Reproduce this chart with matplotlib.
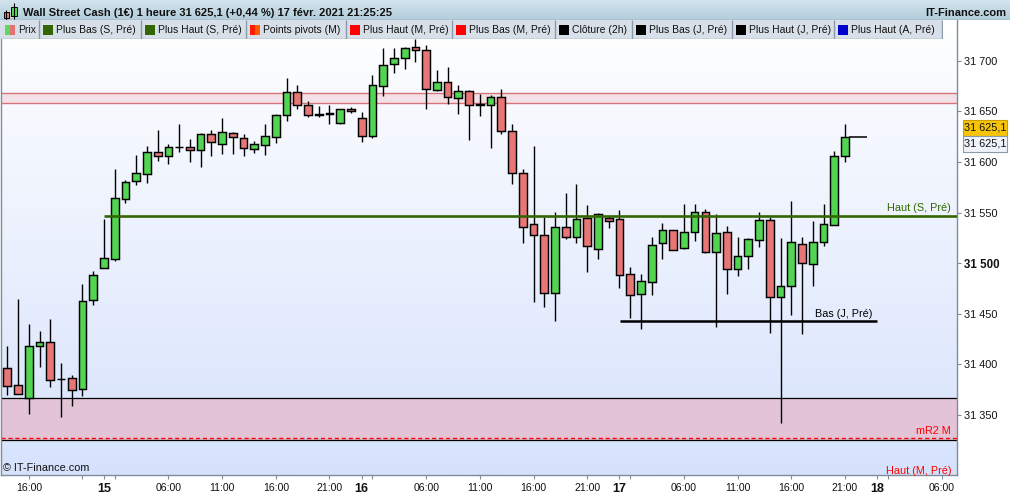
import numpy as np
import matplotlib
matplotlib.use("Agg")
import matplotlib.pyplot as plt
from matplotlib.patches import Rectangle
from matplotlib.colors import LinearSegmentedColormap
import matplotlib.transforms as mtransforms

plt.rcParams['font.family'] = ['Liberation Sans', 'DejaVu Sans']

# ---------------- data (hourly candles) ----------------
opens = [31396.3, 31379.5, 31366.6, 31418.0, 31422.0, 31385.7, 31386.4, 31375.5, 31463.4, 31494.9,
         31504.5, 31563.8, 31581.0, 31588.5, 31609.7, 31605.7, 31614.6, 31614.6, 31612.2, 31627.5,
         31618.2, 31628.4, 31623.5, 31612.6, 31616.6, 31624.5, 31646.2, 31668.9, 31656.1, 31647.3,
         31648.7, 31638.9, 31652.2, 31643.3, 31625.5, 31674.9, 31696.6, 31702.5, 31713.4, 31710.4,
         31670.9, 31678.8, 31663.0, 31669.9, 31657.2, 31656.1, 31664.0, 31630.4, 31588.9, 31538.5,
         31527.7, 31470.4, 31535.6, 31525.7, 31544.5, 31513.8, 31544.5, 31543.5, 31489.1, 31469.4,
         31481.2, 31519.8, 31532.6, 31514.8, 31530.6, 31550.4, 31510.9, 31530.6, 31494.1, 31506.9,
         31522.7, 31542.5, 31466.4, 31477.3, 31518.8, 31499.0, 31520.7, 31537.5, 31605.7]
highs = [31418.3, 31464.4, 31440.0, 31433.1, 31445.0, 31401.2, 31389.3, 31479.5, 31492.4, 31543.8,
         31593.2, 31582.3, 31607.0, 31615.9, 31631.7, 31617.9, 31637.6, 31622.8, 31628.4, 31631.7,
         31643.6, 31629.7, 31627.7, 31620.5, 31637.6, 31647.2, 31683.1, 31676.2, 31660.4, 31655.4,
         31656.4, 31652.2, 31654.1, 31649.2, 31686.0, 31712.4, 31712.4, 31714.0, 31721.3, 31715.7,
         31690.7, 31693.6, 31675.9, 31670.9, 31667.0, 31666.0, 31671.9, 31637.3, 31592.9, 31615.6,
         31546.0, 31550.4, 31569.2, 31578.1, 31557.3, 31549.4, 31546.4, 31552.4, 31496.0, 31489.1,
         31525.7, 31539.8, 31532.6, 31558.3, 31558.3, 31553.4, 31548.4, 31536.6, 31525.7, 31524.7,
         31550.4, 31545.4, 31524.7, 31561.3, 31525.7, 31541.5, 31558.3, 31610.7, 31637.3]
lows = [31369.9, 31370.6, 31351.1, 31397.8, 31378.1, 31348.4, 31359.3, 31369.2, 31459.1, 31494.9,
        31502.6, 31559.9, 31577.7, 31579.6, 31601.1, 31598.4, 31610.3, 31600.4, 31595.4, 31606.3,
        31608.3, 31608.3, 31606.3, 31609.3, 31607.3, 31619.2, 31640.3, 31652.7, 31644.8, 31644.8,
        31637.9, 31637.9, 31648.8, 31619.5, 31623.5, 31665.6, 31688.3, 31692.3, 31698.6, 31652.2,
        31669.9, 31657.1, 31647.2, 31621.5, 31645.2, 31613.6, 31627.5, 31578.1, 31519.8, 31462.1,
        31457.1, 31443.0, 31523.7, 31519.8, 31491.1, 31504.0, 31534.6, 31475.3, 31445.7, 31434.8,
        31468.4, 31504.0, 31512.8, 31513.8, 31521.7, 31509.9, 31436.8, 31469.4, 31487.2, 31494.1,
        31515.8, 31430.8, 31342.5, 31448.6, 31429.9, 31477.3, 31516.8, 31537.5, 31599.8]
closes = [31379.1, 31370.6, 31418.0, 31422.0, 31385.0, 31385.7, 31374.5, 31462.5, 31488.1, 31504.9,
          31564.2, 31580.0, 31588.9, 31609.7, 31605.7, 31614.6, 31614.6, 31611.6, 31627.5, 31619.5,
          31629.4, 31624.5, 31613.6, 31617.6, 31625.5, 31646.2, 31668.9, 31656.1, 31646.2, 31646.3,
          31647.7, 31652.2, 31650.2, 31625.5, 31675.9, 31695.6, 31702.5, 31712.4, 31710.4, 31671.9,
          31678.8, 31664.0, 31670.5, 31656.1, 31656.2, 31664.8, 31630.4, 31588.9, 31535.6, 31527.7,
          31470.4, 31535.6, 31525.7, 31543.5, 31516.8, 31548.4, 31541.5, 31488.1, 31468.4, 31482.2,
          31517.8, 31532.6, 31512.8, 31530.6, 31550.4, 31510.9, 31529.6, 31494.1, 31506.9, 31523.7,
          31542.5, 31466.4, 31477.3, 31520.7, 31500.0, 31520.7, 31538.5, 31605.7, 31625.1]

last_price = 31625.1

# levels
band_high = (31658.0, 31668.0)        # upper pink zone
band_low = (31325.4, 31366.6)         # lower pink zone
mr2_level = 31327.7                   # mR2 M pivot (dashed)
haut_s_pre = 31547.0                  # Haut (S, Pré)
bas_j_pre = 31443.3                   # Bas (J, Pré)

# axes ticks
ytick_vals = [31350, 31400, 31450, 31500, 31550, 31600, 31650, 31700]
ytick_labels = ['31 350', '31 400', '31 450', '31 500', '31 550', '31 600', '31 650', '31 700']
xtick_pos = [2, 7, 9, 10, 15, 20, 25, 30, 33, 34, 39, 44, 49, 54, 57, 58, 63, 68, 73, 78, 81, 82, 87]
xtick_labels = ['16:00', '', '15', '', '06:00', '11:00', '16:00', '21:00', '16', '', '06:00', '11:00',
                '16:00', '21:00', '17', '', '06:00', '11:00', '16:00', '21:00', '18', '', '06:00']
day_labels = ['15', '16', '17', '18']

legend_names = ['Prix', 'Plus Bas (S, Pré)', 'Plus Haut (S, Pré)', 'Points pivots (M)',
                'Plus Haut (M, Pré)', 'Plus Bas (M, Pré)', 'Clôture (2h)', 'Plus Bas (J, Pré)',
                'Plus Haut (J, Pré)', 'Plus Haut (A, Pré)']
legend_colors = [('#5ed85e', '#e47272'), ('#336600', '#336600'), ('#336600', '#336600'),
                 ('#ff1a00', '#ff5a00'), ('#ff0000', '#ff0000'), ('#ff0000', '#ff0000'),
                 ('#000000', '#000000'), ('#000000', '#000000'), ('#000000', '#000000'),
                 ('#0000cc', '#0000cc')]
legend_seps = [3, 39, 141, 246, 346, 452, 555, 632, 732, 834, 942]

title = 'Wall Street Cash (1€) 1 heure 31 625,1 (+0,44 %) 17 févr. 2021 21:25:25'

# ---------------- figure ----------------
W, H = 1010, 495
fig = plt.figure(figsize=(W / 100, H / 100), dpi=100, facecolor='white')


def fx(px):
    return px / W


def fy(py):
    return 1 - py / H


XMIN, XMAX = -0.587, 88.43
YMIN, YMAX = 31290.8, 31740.4

ax = fig.add_axes([fx(1), fy(475), (957 - 1) / W, (475 - 20) / H])
ax.set_xlim(XMIN, XMAX)
ax.set_ylim(YMIN, YMAX)

grad = np.linspace(1, 0, 256).reshape(-1, 1)
bg_cmap = LinearSegmentedColormap.from_list('bg', ['#d6e2fc', '#ffffff'])
ax.imshow(grad, extent=[XMIN, XMAX, YMIN, YMAX], aspect='auto', cmap=bg_cmap,
          vmin=0, vmax=1, zorder=0, origin='upper', interpolation='bilinear')

# zones
ax.axhspan(band_high[0], band_high[1], facecolor='#f4e0e7', lw=0, zorder=1)
ax.axhline(band_high[0], color='#d7757a', lw=1.0, zorder=1.5)
ax.axhline(band_high[1], color='#d7757a', lw=1.0, zorder=1.5)
ax.axhspan(band_low[0], band_low[1], facecolor='#e3c4d7', lw=0, zorder=1)
ax.axhline(band_low[0], color='black', lw=0.9, zorder=1.5)
ax.axhline(band_low[1], color='black', lw=0.9, zorder=1.5)
ax.axhline(mr2_level, color='#ff0000', lw=1.0, ls=(0, (3, 2)), zorder=1.6)

# candles
o = np.array(opens); h = np.array(highs); l = np.array(lows); c = np.array(closes)
x = np.arange(len(o))
up = c >= o
body_colors = np.where(up, '#52d652', '#e97676')
ax.vlines(x, l, h, color='black', lw=1.0, zorder=3)
ax.bar(x, np.abs(c - o), bottom=np.minimum(o, c), width=0.72, color=body_colors,
       edgecolor='black', linewidth=1.05, zorder=4)

# level lines
ax.hlines(haut_s_pre, 9.0, XMAX, color='#336600', lw=1.9, zorder=5)
ax.hlines(bas_j_pre, 57.05, 80.97, color='black', lw=1.8, zorder=5)
ax.hlines(last_price, 78.37, 80.05, color='black', lw=1.1, zorder=5)

tr = mtransforms.blended_transform_factory(ax.transAxes, ax.transData)
ax.text(0.9937, 31555.0, 'Haut (S, Pré)', color='#336600', ha='right', va='center',
        transform=tr, fontsize=7.8, zorder=6)
ax.text(0.9937, 31334.6, 'mR2 M', color='#ff0000', ha='right', va='center',
        transform=tr, fontsize=7.8, zorder=6)
ax.text(80.55, 31450.2, 'Bas (J, Pré)', color='black', ha='right', va='center',
        fontsize=7.8, zorder=6)

# axes styling
for s in ['left', 'right', 'bottom']:
    ax.spines[s].set_color('#7f8c99')
    ax.spines[s].set_linewidth(1.0)
ax.spines['top'].set_visible(False)

ax.yaxis.tick_right()
ax.set_yticks(ytick_vals)
ax.set_yticklabels(ytick_labels)
ax.tick_params(axis='y', direction='out', length=3, width=0.8, color='#7f8c99',
               labelsize=7.8, pad=2, labelcolor='#111111')
for lbl in ax.get_yticklabels():
    if lbl.get_text() == '31 500':
        lbl.set_fontweight('bold')
        lbl.set_fontsize(8.3)

ax.set_xticks(xtick_pos)
ax.set_xticklabels(xtick_labels)
ax.tick_params(axis='x', direction='out', length=3, width=0.8, color='#7f8c99',
               labelsize=7.6, pad=2.5, labelcolor='#111111')
for lbl in ax.get_xticklabels():
    if lbl.get_text() in day_labels:
        lbl.set_fontweight('bold')
        lbl.set_fontsize(9)

# footer texts
fig.text(fx(3), fy(468.3), '© IT-Finance.com', fontsize=7.8, ha='left', va='center', color='#111111')
fig.text(fx(951), fy(470.7), 'Haut (M, Pré)', fontsize=7.8, ha='right', va='center', color='#ff0000')

# right price boxes
fig.add_artist(Rectangle((fx(962.5), fy(136)), 44.5 / W, 16 / H, transform=fig.transFigure,
                         facecolor='#f8c40a', edgecolor='#c9a000', lw=0.8))
fig.text(fx(984.8), fy(128), '31 625,1', fontsize=7.8, ha='center', va='center', color='#111111')
fig.add_artist(Rectangle((fx(962.5), fy(152)), 44.5 / W, 16 / H, transform=fig.transFigure,
                         facecolor='#eef2fb', edgecolor='#8a9aaa', lw=0.8))
fig.text(fx(984.8), fy(144), '31 625,1', fontsize=7.8, ha='center', va='center', color='#111111')

# ---------------- title bar ----------------
tax = fig.add_axes([0, fy(20), 1, 20 / H])
tax.set_xlim(0, W)
tax.set_ylim(20, 0)
tgrad = np.linspace(0, 1, 64).reshape(-1, 1)
t_cmap = LinearSegmentedColormap.from_list('tb', ['#d2e4ee', '#b2cdda'])
tax.imshow(tgrad, extent=[0, W, 20, 0], aspect='auto', cmap=t_cmap, vmin=0, vmax=1,
           origin='upper', zorder=0)
tax.axhline(19.6, color='#7f96a6', lw=1.0)
tax.axis('off')
# icon
tax.vlines(6, 9.5, 20.0, color='black', lw=0.8)
tax.add_patch(Rectangle((3.5, 11.7), 5, 6.5, facecolor='#e97676', edgecolor='black', lw=0.7))
tax.vlines(13.8, 3.3, 19.0, color='black', lw=0.8)
tax.add_patch(Rectangle((11.2, 7.3), 5.3, 8.7, facecolor='#52d652', edgecolor='black', lw=0.7))
tax.text(23, 13.2, title, fontsize=8.0, fontweight='bold', ha='left', va='center', color='#111111')
tax.text(1006, 13.2, 'IT-Finance.com', fontsize=8.0, fontweight='bold', ha='right', va='center',
         color='#111111')

# ---------------- legend row ----------------
lax = fig.add_axes([0, fy(39), fx(943), 19 / H])
lax.set_xlim(0, 943)
lax.set_ylim(39, 20)
lax.axis('off')
lax.add_patch(Rectangle((0, 20), 942, 19, facecolor='#d7e0e8', edgecolor='none'))
lax.hlines(38.5, 0, 942, color='#8a9aaa', lw=1.0)
for sx in legend_seps[1:]:
    lax.vlines(sx, 20, 39, color='#8a9aaa', lw=1.0)
for i, name in enumerate(legend_names):
    sx = legend_seps[i] if i > 0 else 1
    c1, c2 = legend_colors[i]
    lax.add_patch(Rectangle((sx + 4, 25), 5, 10, facecolor=c1, edgecolor='none'))
    lax.add_patch(Rectangle((sx + 9, 25), 5, 10, facecolor=c2, edgecolor='none'))
    lax.text(sx + 17, 30.3, name, fontsize=7.5, ha='left', va='center', color='#111111')

fig.savefig('out.png', dpi=100, facecolor='white')
